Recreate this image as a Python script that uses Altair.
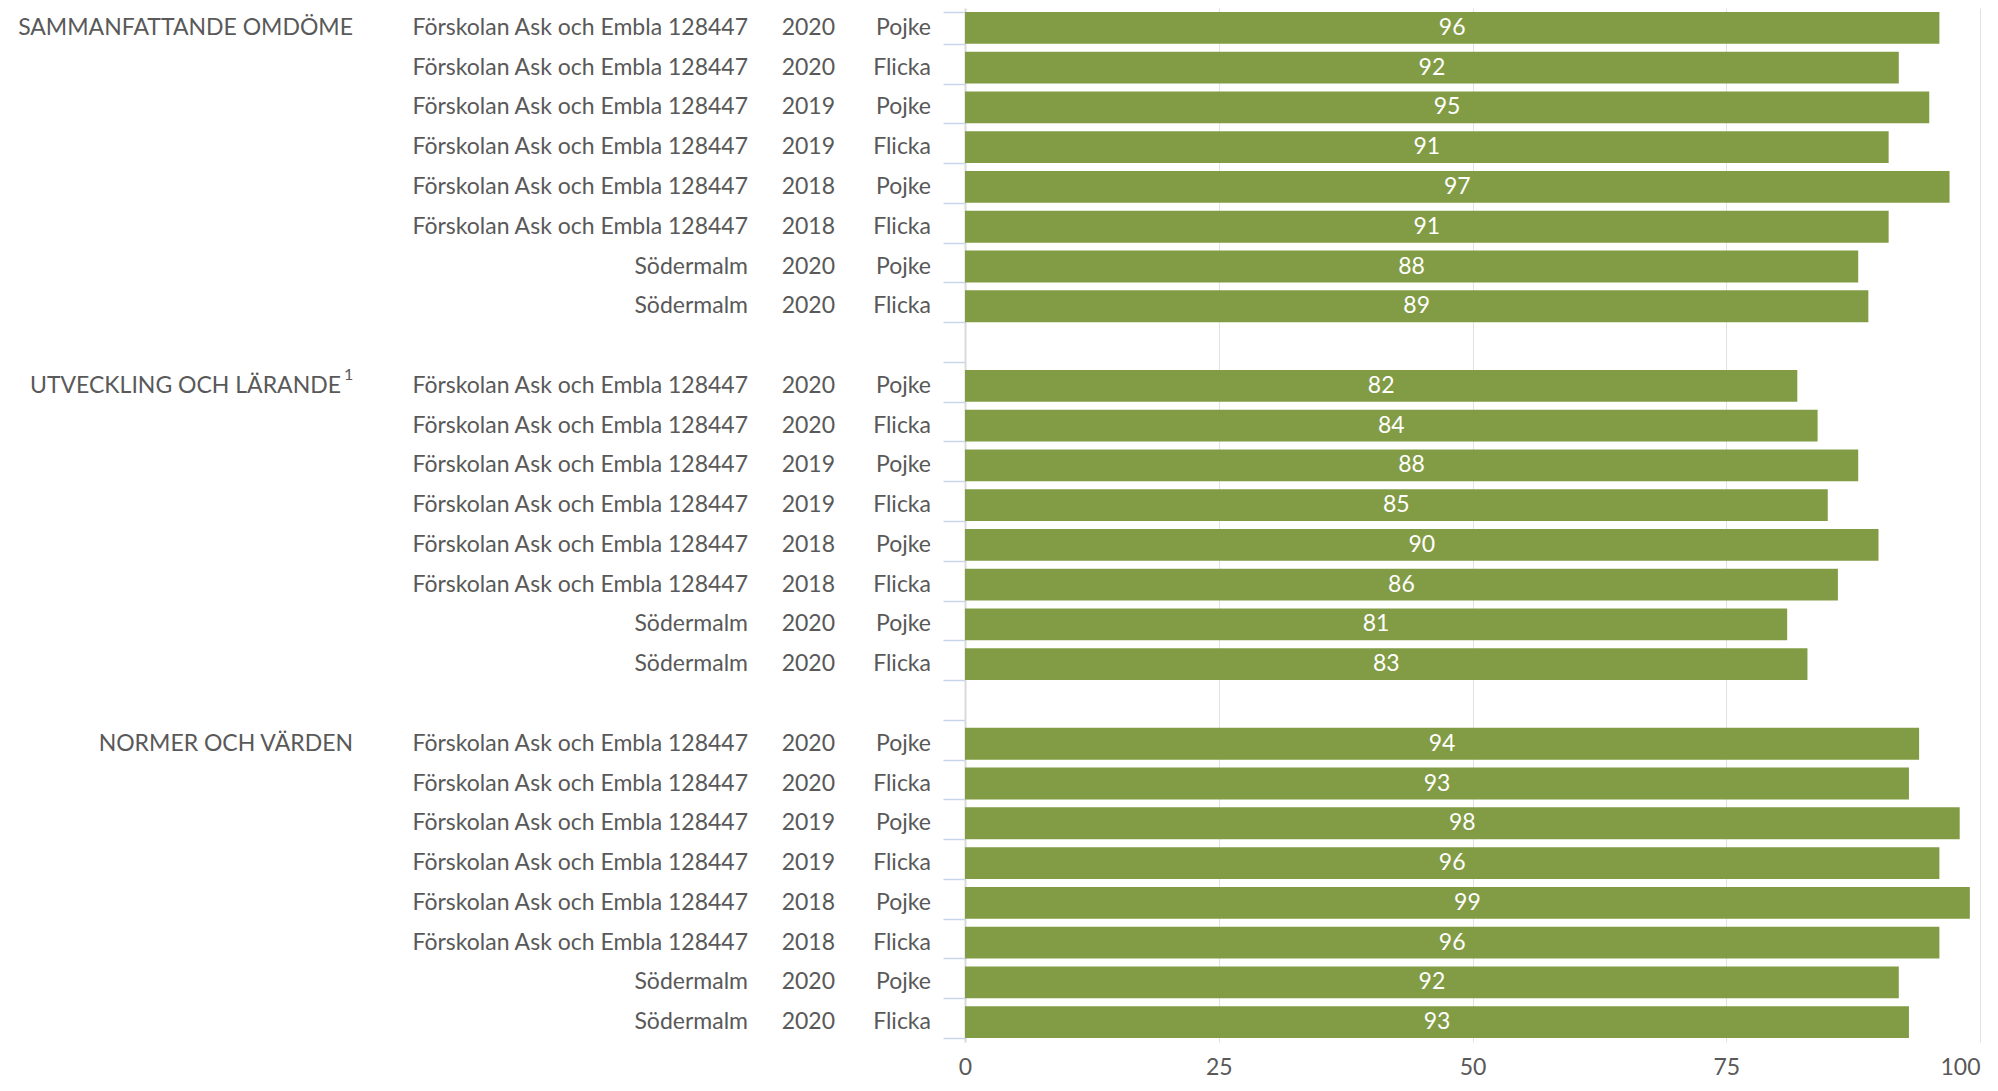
import altair as alt
import pandas as pd

# ---- data ----
groups = ["SAMMANFATTANDE OMDÖME", "UTVECKLING OCH LÄRANDE", "NORMER OCH VÄRDEN"]
group_notes = ["", "1", ""]
units = ["Förskolan Ask och Embla 128447"] * 6 + ["Södermalm"] * 2
years = ["2020", "2020", "2019", "2019", "2018", "2018", "2020", "2020"]
genders = ["Pojke", "Flicka", "Pojke", "Flicka", "Pojke", "Flicka", "Pojke", "Flicka"]
values_sammanfattande = [96, 92, 95, 91, 97, 91, 88, 89]
values_utveckling = [82, 84, 88, 85, 90, 86, 81, 83]
values_normer = [94, 93, 98, 96, 99, 96, 92, 93]
x_ticks = [0, 25, 50, 75, 100]

all_values = [values_sammanfattande, values_utveckling, values_normer]
rows_per_group = len(units) + 1  # one empty row between groups
n_rows = rows_per_group * len(groups) - 1

records = []
for g, vals in enumerate(all_values):
    for i, v in enumerate(vals):
        records.append({
            "row": g * rows_per_group + i,
            "group": groups[g],
            "unit": units[i],
            "year": years[i],
            "gender": genders[i],
            "value": v,
        })
df = pd.DataFrame(records)
df["mid"] = df["value"] / 2

gdf = pd.DataFrame({
    "row": [g * rows_per_group for g in range(len(groups))],
    "group": groups,
    "note": group_notes,
})

FONT = "Lato"
TXT = "#595959"
FS = 23
row_domain = list(range(n_rows))

y_scale = alt.Scale(domain=row_domain, paddingInner=0.2, paddingOuter=0.1)

bars = alt.Chart(df).mark_bar(color="#829c45").encode(
    x=alt.X(
        "value:Q",
        scale=alt.Scale(domain=[0, 100], nice=False),
        axis=alt.Axis(
            values=x_ticks, title=None, grid=True, gridColor="#e2e2e2",
            gridWidth=1, domain=False, ticks=False,
            labelAlign={"condition": {"test": "datum.value == 100", "value": "right"},
                        "value": "center"},
            labelFont=FONT, labelFontSize=FS, labelColor=TXT, labelPadding=14,
        ),
    ),
    y=alt.Y(
        "row:O",
        scale=y_scale,
        axis=alt.Axis(
            labels=False, title=None, grid=False,
            ticks=True, tickBand="extent", tickSize=22, tickWidth=1.5,
            tickColor="#c8d4ea", domainColor="#d9d9d9", domainWidth=2,
        ),
    ),
)

bar_labels = alt.Chart(df).mark_text(
    color="white", font=FONT, fontSize=FS, align="center", baseline="middle"
).encode(
    x=alt.X("mid:Q"),
    y=alt.Y("row:O"),
    text=alt.Text("value:Q"),
)

def col_text(source, field, xpos, align="right", size=FS, dy=0, filt=None):
    base = alt.Chart(source)
    if filt is not None:
        base = base.transform_filter(filt)
    return base.mark_text(
        align=align, baseline="middle", font=FONT, fontSize=size, color=TXT, dy=dy
    ).encode(x=alt.value(xpos), y=alt.Y("row:O"), text=f"{field}:N")

unit_text = col_text(df, "unit", -217)
year_text = col_text(df, "year", -130)
gender_text = col_text(df, "gender", -34)
group_plain = col_text(gdf, "group", -612, filt="datum.note == ''")
group_noted = col_text(gdf, "group", -624, filt="datum.note != ''")
group_sup = col_text(gdf, "note", -621, align="left", size=16, dy=-11,
                     filt="datum.note != ''")

chart = alt.layer(
    bars, bar_labels, unit_text, year_text, gender_text,
    group_plain, group_noted, group_sup,
).properties(
    width=1015,
    height=1034,
    autosize=alt.AutoSizeParams(type="none"),
    padding={"left": 957, "top": 0, "right": 2, "bottom": 38},
).configure_view(stroke=None)

chart.save("out.html", embed_options={"renderer": "svg", "actions": False})
